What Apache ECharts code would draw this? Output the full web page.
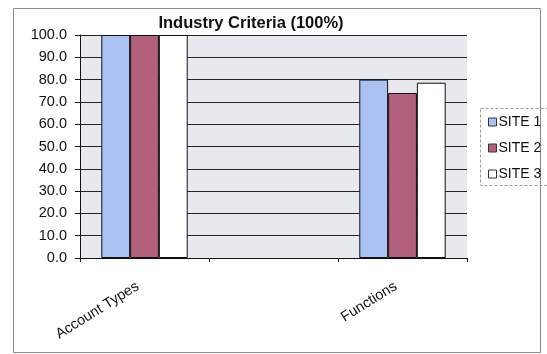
<!DOCTYPE html>
<html>
<head>
<meta charset="utf-8">
<script src="https://cdn.jsdelivr.net/npm/echarts@6/dist/echarts.min.js"></script>
<style>
  html, body { margin: 0; padding: 0; background: #ffffff; }
  #chart { width: 547px; height: 354px; }
</style>
</head>
<body>
<div id="chart"></div>
<script>
// Criteria groups (the middle slot is an empty spacer group)
const categories = ['Account Types', '', 'Functions'];
const siteNames = ['SITE 1', 'SITE 2', 'SITE 3'];
const site1 = [100.0, null, 80.0];
const site2 = [100.0, null, 74.0];
const site3 = [100.0, null, 78.6];
const yTicks = { min: 0, max: 100, interval: 10 };

const colors = ['#a9c2f2', '#b2607c', '#ffffff'];
const font = '"Liberation Sans", Arial, sans-serif';

const chart = echarts.init(document.getElementById('chart'), null, { renderer: 'canvas' });

const seriesData = [site1, site2, site3];

chart.setOption({
  animation: false,
  backgroundColor: '#ffffff',
  title: {
    text: 'Industry Criteria (100%)',
    left: 246,
    top: 10,
    textAlign: 'center',
    textStyle: { fontFamily: font, fontSize: 16.5, fontWeight: 'bold', color: '#111' }
  },
  legend: {
    orient: 'vertical',
    left: 483,
    top: 110,
    itemWidth: 8,
    itemHeight: 8,
    itemGap: 12,
    icon: 'rect',
    textStyle: { fontFamily: font, fontSize: 14, color: '#111', padding: [0, 0, 0, -3] },
    data: siteNames.map((n, i) => ({
      name: n,
      itemStyle: { color: colors[i], borderColor: '#333', borderWidth: 1 }
    }))
  },
  graphic: [
    {
      type: 'rect',
      shape: { x: 13.5, y: 8.5, width: 527, height: 344 },
      style: { fill: null, stroke: '#8a8a8a', lineWidth: 1 },
      silent: true
    },
    {
      type: 'rect',
      shape: { x: 480.5, y: 108.5, width: 80, height: 77 },
      style: { fill: null, stroke: '#9a9a9a', lineWidth: 1, lineDash: [3, 2] },
      silent: true
    }
  ],
  grid: {
    left: 80,
    right: 80,
    top: 35,
    bottom: 96,
    show: true,
    backgroundColor: '#e7e9ef',
    borderColor: '#9a9a9a',
    borderWidth: 0
  },
  xAxis: {
    type: 'category',
    data: categories,
    boundaryGap: true,
    axisLine: { lineStyle: { color: '#111', width: 1 } },
    axisTick: { show: true, length: 4, lineStyle: { color: '#111' } },
    axisLabel: {
      rotate: 32,
      margin: 23,
      padding: [0, 8, 0, 0],
      fontFamily: font,
      fontSize: 14.5,
      color: '#111'
    },
    splitLine: { show: false }
  },
  yAxis: {
    type: 'value',
    min: yTicks.min,
    max: yTicks.max,
    interval: yTicks.interval,
    axisLine: { show: true, lineStyle: { color: '#111', width: 1 } },
    axisTick: { show: true, length: 5, lineStyle: { color: '#111' } },
    axisLabel: {
      formatter: v => v.toFixed(1),
      fontFamily: font,
      fontSize: 14.5,
      color: '#111',
      margin: 13
    },
    splitLine: { show: true, lineStyle: { color: '#222', width: 1 } }
  },
  series: siteNames.map((name, i) => ({
    name: name,
    type: 'bar',
    data: seriesData[i],
    barGap: '0%',
    barCategoryGap: '33%',
    itemStyle: { color: colors[i], borderColor: '#111', borderWidth: 1 }
  }))
});
</script>
</body>
</html>
